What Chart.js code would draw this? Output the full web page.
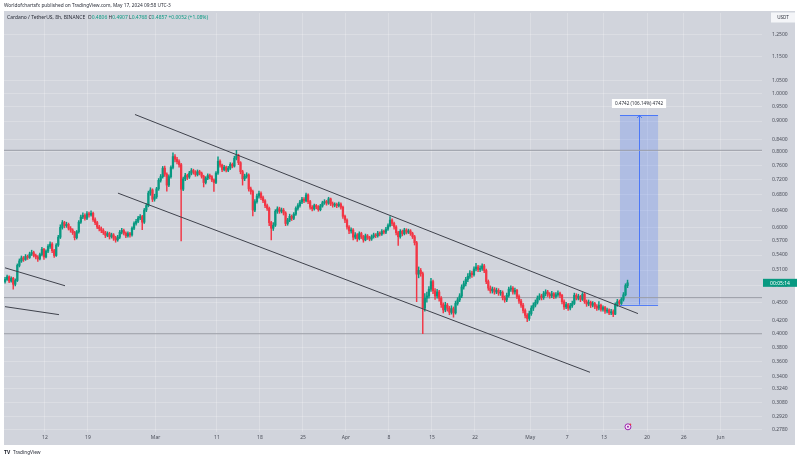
<!DOCTYPE html>
<html><head><meta charset="utf-8">
<script src="https://cdn.jsdelivr.net/npm/chart.js@4.4.1/dist/chart.umd.min.js"></script>
<style>html,body{margin:0;padding:0;background:#fff;}#wrap{width:800px;height:460px;}</style>
</head><body><div id="wrap"><canvas id="c" width="800" height="460"></canvas></div>
<script>
// ---- DATA (ADA/USDT, 8h candles, Binance) ----
const firstCandleDay = 4.5;          // days since Feb 1, 2024 (Feb 5 12:00)
const candleStepDays = 1 / 3;        // 8h
const firstOpen = 0.488;
const closes = [
0.492,0.497,0.489,0.494,0.483,0.490,0.519,0.528,0.534,0.531,
0.537,0.535,0.542,0.545,0.539,0.536,0.532,0.541,0.552,0.536,
0.548,0.558,0.563,0.549,0.539,0.561,0.578,0.600,0.611,0.604,
0.607,0.598,0.594,0.588,0.577,0.590,0.612,0.624,0.628,0.621,
0.632,0.629,0.633,0.618,0.611,0.601,0.597,0.593,0.588,0.582,
0.586,0.579,0.583,0.576,0.572,0.578,0.589,0.593,0.587,0.581,
0.586,0.583,0.598,0.609,0.614,0.622,0.625,0.612,0.641,0.652,
0.684,0.692,0.668,0.674,0.695,0.718,0.728,0.752,0.735,0.705,
0.728,0.754,0.786,0.778,0.771,0.762,0.694,0.722,0.731,0.727,
0.738,0.745,0.741,0.734,0.742,0.738,0.729,0.712,0.724,0.731,
0.728,0.719,0.712,0.738,0.772,0.761,0.748,0.755,0.746,0.752,
0.763,0.758,0.781,0.789,0.768,0.742,0.722,0.729,0.733,0.695,
0.688,0.641,0.662,0.676,0.683,0.672,0.664,0.652,0.645,0.611,
0.598,0.605,0.638,0.644,0.638,0.641,0.634,0.609,0.617,0.626,
0.621,0.631,0.645,0.652,0.661,0.668,0.664,0.679,0.662,0.648,
0.644,0.652,0.649,0.642,0.651,0.659,0.662,0.658,0.669,0.657,
0.653,0.655,0.652,0.656,0.648,0.626,0.617,0.601,0.592,0.594,
0.578,0.583,0.575,0.586,0.579,0.572,0.581,0.577,0.574,0.579,
0.583,0.581,0.587,0.585,0.591,0.589,0.596,0.604,0.617,0.609,
0.601,0.588,0.579,0.591,0.586,0.594,0.589,0.592,0.586,0.579,
0.566,0.502,0.509,0.503,0.441,0.458,0.462,0.474,0.488,0.471,
0.462,0.469,0.458,0.447,0.438,0.446,0.441,0.434,0.440,0.433,
0.449,0.455,0.462,0.478,0.484,0.492,0.498,0.504,0.501,0.512,
0.516,0.511,0.513,0.518,0.509,0.488,0.476,0.471,0.474,0.469,
0.472,0.467,0.468,0.459,0.455,0.463,0.474,0.476,0.469,0.472,
0.461,0.453,0.446,0.437,0.429,0.424,0.432,0.441,0.446,0.451,
0.458,0.462,0.459,0.466,0.469,0.465,0.462,0.466,0.461,0.464,
0.467,0.463,0.452,0.443,0.447,0.441,0.445,0.449,0.463,0.458,
0.461,0.456,0.465,0.452,0.448,0.451,0.446,0.449,0.444,0.441,
0.446,0.439,0.442,0.436,0.438,0.433,0.435,0.431,0.447,0.452,
0.449,0.456,0.464,0.4806,0.4857];
const highs = [
0.496,0.500,0.499,0.497,0.496,0.493,0.522,0.532,0.538,0.537,
0.541,0.540,0.546,0.550,0.548,0.542,0.539,0.544,0.556,0.554,
0.551,0.562,0.568,0.566,0.552,0.564,0.582,0.606,0.616,0.614,
0.612,0.610,0.602,0.597,0.591,0.593,0.616,0.629,0.634,0.632,
0.637,0.636,0.639,0.636,0.622,0.614,0.605,0.601,0.597,0.591,
0.590,0.589,0.587,0.586,0.580,0.582,0.593,0.598,0.596,0.590,
0.590,0.589,0.601,0.613,0.619,0.626,0.630,0.628,0.645,0.657,
0.689,0.698,0.695,0.681,0.699,0.723,0.734,0.757,0.758,0.739,
0.733,0.759,0.797,0.792,0.784,0.776,0.766,0.727,0.737,0.735,
0.743,0.751,0.749,0.745,0.747,0.746,0.741,0.732,0.728,0.736,
0.735,0.731,0.722,0.742,0.785,0.776,0.764,0.760,0.758,0.757,
0.768,0.767,0.787,0.805,0.793,0.771,0.746,0.735,0.739,0.736,
0.700,0.692,0.667,0.681,0.689,0.687,0.676,0.667,0.656,0.648,
0.614,0.611,0.642,0.649,0.648,0.646,0.645,0.637,0.621,0.631,
0.629,0.635,0.649,0.657,0.665,0.673,0.672,0.684,0.682,0.665,
0.652,0.656,0.655,0.652,0.655,0.663,0.667,0.665,0.673,0.671,
0.661,0.659,0.658,0.661,0.659,0.651,0.629,0.620,0.604,0.599,
0.597,0.588,0.586,0.590,0.589,0.582,0.585,0.584,0.580,0.583,
0.587,0.586,0.591,0.590,0.595,0.594,0.600,0.608,0.625,0.620,
0.612,0.604,0.591,0.595,0.594,0.598,0.597,0.596,0.595,0.589,
0.582,0.569,0.516,0.513,0.506,0.466,0.469,0.479,0.494,0.491,
0.475,0.474,0.472,0.461,0.450,0.451,0.449,0.444,0.445,0.443,
0.453,0.459,0.466,0.482,0.489,0.496,0.503,0.509,0.508,0.516,
0.523,0.519,0.518,0.522,0.521,0.512,0.491,0.480,0.478,0.477,
0.476,0.475,0.472,0.471,0.462,0.467,0.478,0.480,0.479,0.476,
0.474,0.464,0.456,0.449,0.440,0.432,0.436,0.445,0.450,0.455,
0.462,0.466,0.465,0.470,0.473,0.472,0.468,0.470,0.468,0.468,
0.471,0.469,0.465,0.455,0.451,0.449,0.449,0.453,0.467,0.466,
0.465,0.463,0.468,0.467,0.455,0.455,0.453,0.452,0.451,0.447,
0.452,0.448,0.445,0.444,0.441,0.440,0.439,0.438,0.450,0.456,
0.455,0.459,0.468,0.484,0.4907];
const lows = [
0.485,0.490,0.486,0.487,0.474,0.480,0.488,0.516,0.525,0.527,
0.529,0.531,0.533,0.539,0.536,0.532,0.527,0.530,0.538,0.531,
0.534,0.545,0.554,0.545,0.535,0.537,0.558,0.575,0.596,0.599,
0.600,0.594,0.589,0.584,0.572,0.574,0.587,0.609,0.620,0.617,
0.618,0.624,0.626,0.614,0.606,0.597,0.592,0.588,0.584,0.577,
0.579,0.574,0.576,0.571,0.567,0.569,0.575,0.585,0.583,0.577,
0.578,0.578,0.580,0.595,0.605,0.611,0.618,0.595,0.609,0.637,
0.649,0.678,0.662,0.663,0.670,0.691,0.713,0.724,0.729,0.689,
0.701,0.724,0.750,0.770,0.764,0.755,0.570,0.690,0.717,0.720,
0.723,0.733,0.735,0.729,0.730,0.733,0.724,0.700,0.708,0.720,
0.722,0.714,0.688,0.709,0.734,0.755,0.742,0.744,0.741,0.742,
0.748,0.753,0.755,0.776,0.762,0.736,0.705,0.717,0.724,0.689,
0.681,0.627,0.637,0.658,0.671,0.667,0.659,0.647,0.640,0.604,
0.572,0.593,0.602,0.633,0.633,0.634,0.629,0.604,0.605,0.613,
0.616,0.618,0.628,0.641,0.648,0.657,0.659,0.661,0.657,0.643,
0.639,0.641,0.644,0.638,0.639,0.648,0.655,0.653,0.655,0.652,
0.648,0.649,0.647,0.649,0.643,0.621,0.611,0.596,0.586,0.587,
0.572,0.574,0.569,0.572,0.575,0.567,0.570,0.573,0.570,0.571,
0.576,0.577,0.578,0.581,0.582,0.585,0.586,0.593,0.601,0.604,
0.596,0.583,0.560,0.576,0.581,0.583,0.585,0.586,0.582,0.575,
0.561,0.452,0.495,0.498,0.400,0.436,0.451,0.458,0.470,0.466,
0.456,0.458,0.453,0.442,0.433,0.435,0.436,0.430,0.431,0.426,
0.431,0.446,0.452,0.459,0.474,0.480,0.488,0.494,0.496,0.498,
0.508,0.507,0.507,0.509,0.505,0.484,0.472,0.467,0.467,0.465,
0.466,0.463,0.463,0.455,0.451,0.452,0.460,0.470,0.465,0.465,
0.457,0.449,0.442,0.433,0.425,0.419,0.421,0.429,0.437,0.443,
0.448,0.455,0.455,0.456,0.462,0.461,0.458,0.459,0.457,0.458,
0.461,0.459,0.448,0.439,0.440,0.437,0.438,0.442,0.447,0.455,
0.455,0.452,0.454,0.449,0.444,0.445,0.442,0.443,0.440,0.437,
0.438,0.436,0.436,0.432,0.433,0.430,0.430,0.427,0.430,0.444,
0.446,0.447,0.453,0.462,0.4768];

const xTickDays   = [11, 18, 29, 39, 46, 53, 60, 67, 74, 81, 90, 96, 102, 109, 115, 121];
const xTickLabels = ['12','19','Mar','11','18','25','Apr','8','15','22','May','7','13','20','26','Jun'];
const yTicks = [1.25,1.15,1.05,1.0,0.95,0.9,0.84,0.80,0.76,0.72,0.68,0.64,0.60,0.57,0.54,0.51,0.48,0.45,0.42,0.40,0.38,0.36,0.34,0.324,0.308,0.292,0.278];

// drawn objects (day, price)
const channelUpper = [[25.65, 0.9227], [107.53, 0.4319]];
const channelLower = [[22.88, 0.6837], [99.72, 0.3453]];
const oldLineA = [[4.49, 0.5143], [14.26, 0.4803]];
const oldLineB = [[4.49, 0.4435], [13.28, 0.4302]];
const levelLines = [0.805, 0.459, 0.400];
const rangeStartDay = 104.6, rangeEndDay = 110.8, rangeArrowDay = 107.7;
const rangeBottom = 0.4468, rangeTop = 0.921;
const rangeLabel = '0.4742 (106.14%) 4742';
const lastPrice = 0.4857, countdown = '00:05:14';
const eventDay = 105.9, eventPrice = 0.2805;
const headerSymbol = 'Cardano / TetherUS, 8h, BINANCE';
const headerOHLC = [['O','0.4806'],['H','0.4907'],['L','0.4768'],['C','0.4857'],['','+0.0052 (+1.08%)']];
const publishedText = 'Worldofchartsfx published on TradingView.com, May 17, 2024 09:58 UTC-3';

// ---- styles ----
const BG = '#d1d4dc';
const UP = '#089981', DOWN = '#f23645';
const FONT = '"Noto Sans", "DejaVu Sans", sans-serif';
const X_MIN = 4.33, X_MAX = 127.72, Y_MIN = 0.2750, Y_MAX = 1.3588;

const opens = closes.map((c, i) => i === 0 ? firstOpen : closes[i - 1]);
const days = closes.map((c, i) => firstCandleDay + i * candleStepDays);
const colors = closes.map((c, i) => c >= opens[i] ? UP : DOWN);
const wickData = closes.map((c, i) => ({x: days[i], y: [lows[i], highs[i]]}));
const bodyData = closes.map((c, i) => ({x: days[i], y: [Math.min(opens[i], c), Math.max(opens[i], c)]}));
const seg = (pts) => pts.map(p => ({x: p[0], y: p[1]}));
const lineDs = (pts, color, order) => ({type: 'line', data: seg(pts), borderColor: color, borderWidth: 1, pointRadius: 0, fill: false, order: order, tension: 0});

const datasets = [
  lineDs(channelUpper, '#3f424c', 0),
  lineDs(channelLower, '#3f424c', 0),
  lineDs(oldLineA, '#3f424c', 0),
  lineDs(oldLineB, '#3f424c', 0),
  ...levelLines.map(p => lineDs([[X_MIN, p], [X_MAX, p]], '#9a9da6', 5)),
  {type: 'bar', data: bodyData, backgroundColor: colors, borderWidth: 0, barThickness: 1.6, grouped: false, minBarLength: 1, order: 1},
  {type: 'bar', data: wickData, backgroundColor: colors, borderWidth: 0, barThickness: 0.8, grouped: false, order: 2}
];

function fitFont(ctx, text, targetW, weight) {
  ctx.font = (weight || '') + ' 10px ' + FONT;
  const w = ctx.measureText(text).width;
  return 10 * targetW / w;
}

const overlay = {
  id: 'tvOverlay',
  beforeDraw(chart) {
    const ctx = chart.ctx;
    ctx.save();
    ctx.fillStyle = '#ffffff'; ctx.fillRect(0, 0, 800, 460);
    ctx.fillStyle = BG; ctx.fillRect(4, 11, 791, 434);
    ctx.restore();
  },
  beforeDatasetsDraw(chart) {
    const ctx = chart.ctx, xs = chart.scales.x, ys = chart.scales.y;
    const x0 = xs.getPixelForValue(rangeStartDay), x1 = xs.getPixelForValue(rangeEndDay);
    const yT = ys.getPixelForValue(rangeTop), yB = ys.getPixelForValue(rangeBottom);
    ctx.save();
    ctx.fillStyle = 'rgba(41,98,255,0.2)';
    ctx.fillRect(x0, yT, x1 - x0, yB - yT);
    ctx.strokeStyle = 'rgba(41,98,255,0.75)'; ctx.lineWidth = 1;
    ctx.beginPath();
    ctx.moveTo(x0, Math.round(yT) + 0.5); ctx.lineTo(x1, Math.round(yT) + 0.5);
    ctx.moveTo(x0, Math.round(yB) + 0.5); ctx.lineTo(x1, Math.round(yB) + 0.5);
    const xa = Math.round(xs.getPixelForValue(rangeArrowDay)) + 0.5;
    ctx.moveTo(xa, yB); ctx.lineTo(xa, yT + 1);
    ctx.moveTo(xa - 2.5, yT + 3); ctx.lineTo(xa, yT + 0.5); ctx.lineTo(xa + 2.5, yT + 3);
    ctx.stroke();
    ctx.restore();
  },
  afterDraw(chart) {
    const ctx = chart.ctx, xs = chart.scales.x, ys = chart.scales.y;
    ctx.save();
    ctx.textBaseline = 'middle';
    // published line
    let fs = fitFont(ctx, publishedText, 167);
    ctx.font = fs + 'px ' + FONT; ctx.fillStyle = '#2a2e39'; ctx.textAlign = 'left';
    ctx.fillText(publishedText, 4, 5.5);
    // header legend
    const fullHeader = headerSymbol + '  ' + headerOHLC.map(p => p[0] + p[1]).join(' ');
    fs = fitFont(ctx, fullHeader, 201);
    ctx.font = fs + 'px ' + FONT;
    let x = 7;
    ctx.fillStyle = '#2a2e39'; ctx.fillText(headerSymbol + '  ', x, 17.5);
    x += ctx.measureText(headerSymbol + '  ').width;
    headerOHLC.forEach(p => {
      ctx.fillStyle = '#2a2e39'; ctx.fillText(p[0], x, 17.5); x += ctx.measureText(p[0]).width;
      ctx.fillStyle = UP; ctx.fillText(p[1] + ' ', x, 17.5); x += ctx.measureText(p[1] + ' ').width;
    });
    // USDT box
    ctx.fillStyle = '#f4f5f8'; ctx.fillRect(771, 12.5, 24, 10);
    ctx.font = '4.6px ' + FONT; ctx.fillStyle = '#2a2e39'; ctx.textAlign = 'center';
    ctx.fillText('USDT', 783, 17.8);
    // last price label
    const yp = ys.getPixelForValue(lastPrice);
    ctx.fillStyle = UP; ctx.fillRect(763, yp - 4, 34, 8);
    ctx.fillStyle = '#ffffff'; ctx.font = '5px ' + FONT; ctx.textAlign = 'center';
    ctx.fillText(countdown, 780, yp + 0.3);
    // range label
    const xa = xs.getPixelForValue(rangeArrowDay), yT = ys.getPixelForValue(rangeTop);
    ctx.font = '4.6px ' + FONT;
    const lw = ctx.measureText(rangeLabel).width + 6;
    ctx.fillStyle = '#ffffff';
    ctx.fillRect(xa - lw / 2, yT - 16, lw, 9);
    ctx.fillStyle = '#2a2e39'; ctx.textAlign = 'center';
    ctx.fillText(rangeLabel, xa, yT - 11.3);
    // event marker
    const ex = xs.getPixelForValue(eventDay), ey = ys.getPixelForValue(eventPrice);
    ctx.beginPath(); ctx.arc(ex, ey, 3, 0, Math.PI * 2);
    ctx.fillStyle = '#f3e5f5'; ctx.fill(); ctx.strokeStyle = '#9c27b0'; ctx.lineWidth = 1; ctx.stroke();
    ctx.beginPath(); ctx.arc(ex, ey, 1, 0, Math.PI * 2); ctx.fillStyle = '#9c27b0'; ctx.fill();
    ctx.beginPath(); ctx.arc(ex + 2.4, ey - 2.4, 0.9, 0, Math.PI * 2); ctx.fillStyle = '#f23645'; ctx.fill();
    // footer
    ctx.textAlign = 'left';
    ctx.font = 'bold 5px ' + FONT; ctx.fillStyle = '#131722';
    ctx.fillText('TV', 4, 452.5);
    ctx.font = '4.8px ' + FONT; ctx.fillStyle = '#2a2e39';
    ctx.fillText('TradingView', 13, 452.5);
    ctx.restore();
  }
};

new Chart(document.getElementById('c'), {
  type: 'bar',
  data: {datasets: datasets},
  plugins: [overlay],
  options: {
    responsive: false, animation: false, devicePixelRatio: 1,
    layout: {padding: {left: 4, top: 11, right: 5, bottom: 15}, autoPadding: false},
    plugins: {legend: {display: false}, tooltip: {enabled: false}},
    scales: {
      x: {
        type: 'linear', min: X_MIN, max: X_MAX, offset: false,
        afterBuildTicks: s => { s.ticks = xTickDays.map(v => ({value: v})); },
        afterFit: s => { s.height = 13; },
        grid: {color: 'rgba(255,255,255,0.22)', drawTicks: false, offset: false},
        border: {display: false},
        ticks: {autoSkip: false, maxRotation: 0, padding: 3, color: '#4a4e59',
                font: {size: 5, family: FONT}, callback: (v, i) => xTickLabels[i]}
      },
      y: {
        type: 'logarithmic', position: 'right', min: Y_MIN, max: Y_MAX, beginAtZero: false,
        afterBuildTicks: s => { s.ticks = yTicks.map(v => ({value: v})); },
        afterFit: s => { s.width = 33; },
        grid: {color: 'rgba(255,255,255,0.22)', drawTicks: false},
        border: {display: false},
        ticks: {autoSkip: false, padding: 10, color: '#4a4e59',
                font: {size: 5, family: FONT}, callback: (v, i) => yTicks[i].toFixed(4)}
      }
    }
  }
});
</script></body></html>
